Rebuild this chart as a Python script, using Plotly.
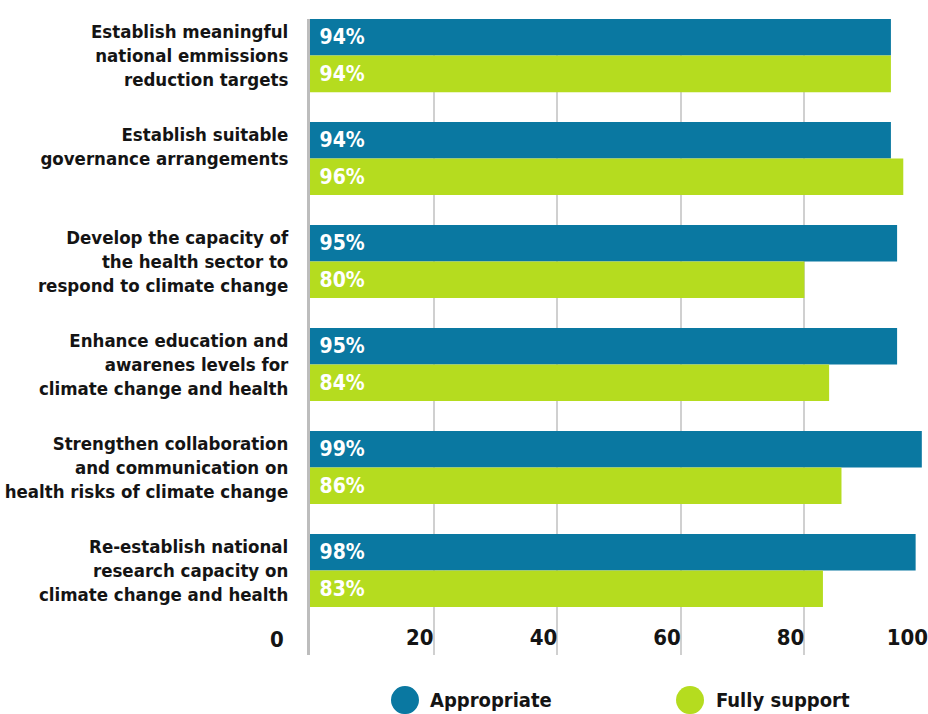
import plotly.graph_objects as go

categories = [
    "Establish meaningful<br>national emmissions<br>reduction targets",
    "Establish suitable<br>governance arrangements<br>\u00a0",
    "Develop the capacity of<br>the health sector to<br>respond to climate change",
    "Enhance education and<br>awarenes levels for<br>climate change and health",
    "Strengthen collaboration<br>and communication on<br>health risks of climate change",
    "Re-establish national<br>research capacity on<br>climate change and health",
]
appropriate = [94, 94, 95, 95, 99, 98]
fully_support = [94, 96, 80, 84, 86, 83]
x_ticks = [20, 40, 60, 80, 100]

BLUE = "#0a78a1"
GREEN = "#b5dc1f"
INK = "#141414"
FONT = "Liberation Sans Narrow, Arial Narrow, DejaVu Sans Condensed, sans-serif"


def font(size, color=INK):
    return {"size": size, "family": FONT, "color": color, "weight": "bold"}


fig = go.Figure()

for name, values, color in [
    ("Appropriate", appropriate, BLUE),
    ("Fully support", fully_support, GREEN),
]:
    fig.add_trace(
        go.Bar(
            y=categories,
            x=values,
            orientation="h",
            name=name,
            marker={"color": color, "line": {"width": 0}},
            text=[f"\u00a0{v}%" for v in values],
            textposition="inside",
            insidetextanchor="start",
            textangle=0,
            textfont=font(21, "white"),
            showlegend=False,
            hoverinfo="skip",
        )
    )

# axis "0" label sits further left than the rest in the original
fig.add_annotation(
    x=0, xref="x", y=0, yref="paper", text="0", showarrow=False,
    xanchor="right", yanchor="bottom", xshift=-24, yshift=1,
    font=font(22),
)

# legend: big dots with labels under the plot
for name, color, cx, tx in [
    ("Appropriate", BLUE, 0.1537, 0.191),
    ("Fully support", GREEN, 0.6149, 0.654),
]:
    fig.add_shape(
        type="circle", xref="paper", yref="paper",
        xsizemode="pixel", ysizemode="pixel",
        xanchor=cx, yanchor=-0.0708,
        x0=-14, x1=14, y0=-14, y1=14,
        fillcolor=color, line={"width": 0},
    )
    fig.add_annotation(
        x=tx, y=-0.0708, xref="paper", yref="paper", text=name,
        showarrow=False, xanchor="left", yanchor="middle",
        font=font(20),
    )

fig.update_layout(
    width=928,
    height=714,
    margin={"l": 310, "r": 0, "t": 19, "b": 59},
    barmode="group",
    bargap=0.29,
    bargroupgap=0,
    plot_bgcolor="white",
    paper_bgcolor="white",
    font={"family": FONT, "color": INK},
    xaxis={
        "range": [0, 100],
        "tickvals": x_ticks,
        "ticktext": [str(t) for t in x_ticks],
        "ticklabelposition": "inside left",
        "ticklabeloverflow": "allow",
        "tickfont": font(22),
        "ticks": "",
        "showgrid": True,
        "gridcolor": "#d0d0d0",
        "gridwidth": 2,
        "zeroline": False,
        "showline": False,
        "automargin": False,
        "fixedrange": True,
    },
    yaxis={
        "type": "category",
        "range": [5.82, -0.355],
        "ticks": "",
        "ticklabelstandoff": 15,
        "tickfont": font(18.5),
        "showgrid": False,
        "showline": True,
        "linecolor": "#bdbdbd",
        "linewidth": 3,
        "zeroline": False,
        "automargin": False,
        "fixedrange": True,
    },
)

# page body has an 8px default margin; drop it so the figure fills the window
fig.write_html(
    "out.html",
    config={"displayModeBar": False},
    post_script="document.body.style.margin = '0';",
)
